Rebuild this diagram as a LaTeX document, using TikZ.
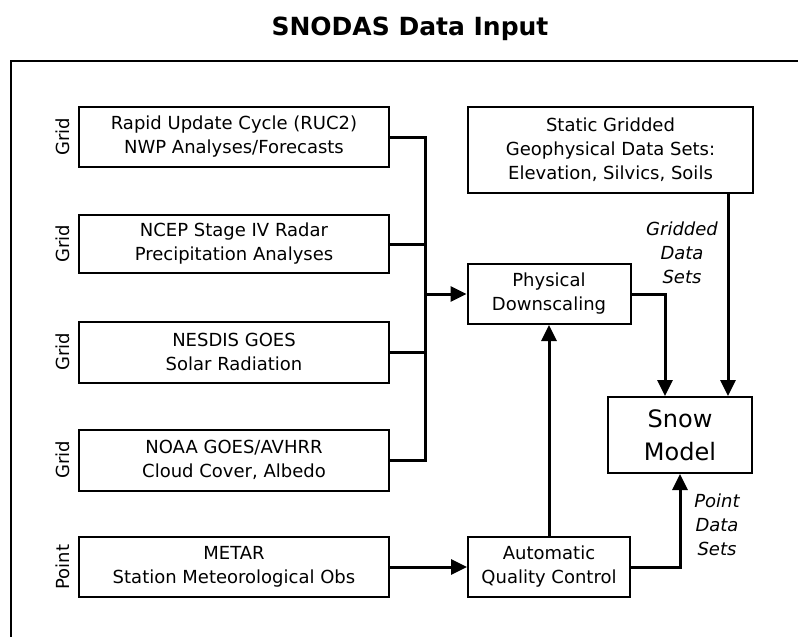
\documentclass[tikz,border=0pt]{standalone}
\usepackage{fontspec}
\setmainfont{DejaVu Sans}
\usetikzlibrary{arrows.meta}
\begin{document}
\begin{tikzpicture}[x=1pt,y=-1pt,
  box/.style={draw, line width=2pt, align=center, inner sep=0pt,
    font=\fontsize{18}{24}\selectfont},
  conn/.style={line width=3pt},
  arr/.style={conn, -{Triangle[length=16pt,width=15pt]}},
  side/.style={rotate=90, font=\fontsize{18}{22}\selectfont},
  lab/.style={align=center, font=\itshape\fontsize{18}{24}\selectfont}]
\useasboundingbox (0,0) rectangle (798,637);
\node[font=\bfseries\fontsize{25}{30}\selectfont] (title) at (410,29) {SNODAS Data Input};
\draw[line width=2.2pt] (798,61) -- (11,61) -- (11,637);
% left input boxes
\node[box, minimum width=310, minimum height=60] (ruc) at (234,137) {Rapid Update Cycle (RUC2)\\NWP Analyses/Forecasts};
\node[box, minimum width=310, minimum height=58] (ncep) at (234,244) {NCEP Stage IV Radar\\Precipitation Analyses};
\node[box, minimum width=310, minimum height=61] (nesdis) at (234,352) {NESDIS GOES\\Solar Radiation};
\node[box, minimum width=310, minimum height=61] (noaa) at (234,460) {NOAA GOES/AVHRR\\Cloud Cover, Albedo};
\node[box, minimum width=310, minimum height=60] (metar) at (234,567) {METAR\\Station Meteorological Obs};
% side labels
\node[side] (s1) at (63,137) {Grid};
\node[side] (s2) at (63,244) {Grid};
\node[side] (s3) at (63,352) {Grid};
\node[side] (s4) at (63,460) {Grid};
\node[side] (s5) at (63,567) {Point};
% right boxes
\node[box, minimum width=285, minimum height=86] (static) at (610.5,150) {Static Gridded\\Geophysical Data Sets:\\Elevation, Silvics, Soils};
\node[box, minimum width=163, minimum height=60] (phys) at (549,294) {Physical\\Downscaling};
\node[box, minimum width=144, minimum height=76, font=\fontsize{24}{33}\selectfont] (snow) at (680,435) {Snow\\Model};
\node[box, minimum width=162, minimum height=60] (aqc) at (549,567) {Automatic\\Quality Control};
% labels
\node[lab] (gl) at (682,253) {Gridded\\Data\\Sets};
\node[lab] (pl) at (717,525) {Point\\Data\\Sets};
% connectors
\coordinate (jx) at (425,0);
\coordinate (c1) at (665,0);
\coordinate (c2) at (728,0);
\draw[conn] (ruc.east) -| (jx |- noaa.east) -- (noaa.east);
\draw[conn] (ncep.east) -- (jx |- ncep.east);
\draw[conn] (nesdis.east) -- (jx |- nesdis.east);
\draw[arr] (jx |- phys.west) -- (phys.west);
\draw[arr] (phys.east) -| (c1 |- snow.north);
\draw[arr] (c2 |- static.south) -- (c2 |- snow.north);
\draw[arr] (aqc.north) -- (phys.south);
\draw[arr] (metar.east) -- (aqc.west);
\draw[arr] (aqc.east) -| (snow.south);
\end{tikzpicture}
\end{document}
